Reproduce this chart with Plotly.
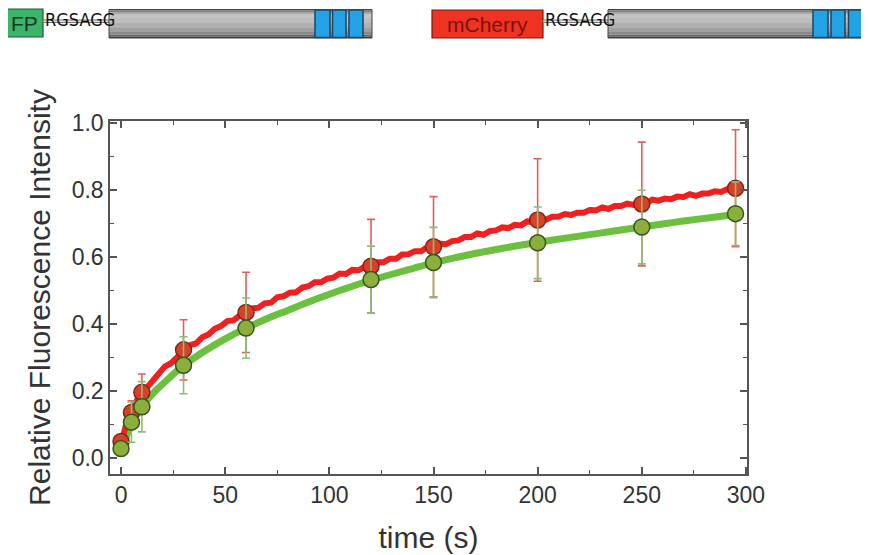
import plotly.graph_objects as go

# sampled time points (s) with mean values and error bars
t_pts = [0, 5, 10, 30, 60, 120, 150, 200, 250, 295]
red_pts = [0.048, 0.135, 0.195, 0.322, 0.434, 0.572, 0.630, 0.710, 0.758, 0.805]
red_err = [0.02, 0.035, 0.055, 0.09, 0.12, 0.14, 0.15, 0.183, 0.185, 0.175]
green_pts = [0.027, 0.106, 0.152, 0.276, 0.387, 0.532, 0.583, 0.642, 0.689, 0.729]
green_err = [0.015, 0.06, 0.075, 0.085, 0.09, 0.10, 0.105, 0.107, 0.11, 0.095]

# continuous recovery traces
red_t = [0, 3, 6, 9, 12, 15, 18, 21, 24, 27, 30, 33, 36, 39, 42, 45, 48, 51, 54, 57,
         60, 63, 66, 69, 72, 75, 78, 81, 84, 87, 90, 93, 96, 99, 102, 105, 108, 111,
         114, 117, 120, 123, 126, 129, 132, 135, 138, 141, 144, 147, 150, 153, 156,
         159, 162, 165, 168, 171, 174, 177, 180, 183, 186, 189, 192, 195, 198, 201,
         204, 207, 210, 213, 216, 219, 222, 225, 228, 231, 234, 237, 240, 243, 246,
         249, 252, 255, 258, 261, 264, 267, 270, 273, 276, 279, 282, 285, 288, 291,
         294, 297]
red_curve = [0.040, 0.113, 0.148, 0.191, 0.206, 0.230, 0.250, 0.272, 0.282, 0.301,
             0.317, 0.336, 0.341, 0.360, 0.368, 0.385, 0.393, 0.408, 0.410, 0.425,
             0.432, 0.446, 0.448, 0.461, 0.463, 0.479, 0.482, 0.493, 0.494, 0.508,
             0.512, 0.524, 0.524, 0.535, 0.538, 0.550, 0.549, 0.561, 0.560, 0.571,
             0.574, 0.584, 0.584, 0.594, 0.594, 0.607, 0.608, 0.617, 0.617, 0.629,
             0.630, 0.640, 0.638, 0.647, 0.649, 0.659, 0.659, 0.670, 0.666, 0.677,
             0.679, 0.688, 0.686, 0.696, 0.694, 0.706, 0.705, 0.712, 0.711, 0.720,
             0.720, 0.728, 0.725, 0.732, 0.732, 0.740, 0.739, 0.748, 0.743, 0.752,
             0.752, 0.759, 0.755, 0.763, 0.760, 0.771, 0.768, 0.774, 0.772, 0.780,
             0.779, 0.787, 0.782, 0.789, 0.789, 0.796, 0.794, 0.802, 0.797, 0.806]
green_t = [0, 2, 5, 10, 15, 20, 30, 40, 50, 60, 70, 80, 90, 100, 110, 120, 130, 140, 150,
           160, 170, 180, 190, 200, 210, 220, 230, 240, 250, 260, 270, 280, 290, 298]
green_curve = [0.02, 0.055, 0.10, 0.152, 0.19, 0.22, 0.275, 0.318, 0.355, 0.387, 0.415,
               0.44, 0.465, 0.488, 0.51, 0.53, 0.548, 0.565, 0.582, 0.597, 0.61, 0.622,
               0.633, 0.643, 0.653, 0.662, 0.671, 0.68, 0.689, 0.698, 0.707, 0.715, 0.723,
               0.73]

FONT = "Liberation Sans, Arial, sans-serif"
NARROW = "Liberation Sans Narrow, DejaVu Sans Condensed, Arial Narrow, sans-serif"

# the page body adds an 8px margin, so the figure is 8px smaller than the window
W, H = 861, 547
ML, MR, MT, MB = 102, 122, 113, 81
PW, PH = W - ML - MR, H - MT - MB
OFF = 8


def px(x):
    # window pixel -> paper x
    return (x - OFF - ML) / PW


def py(y):
    # window pixel -> paper y
    return (H - MB - (y - OFF)) / PH


fig = go.Figure()

fig.add_trace(go.Scatter(x=green_t, y=green_curve, mode='lines', line_shape='spline',
                         line=dict(color='#6cc040', width=7), showlegend=False))
fig.add_trace(go.Scatter(x=red_t, y=red_curve, mode='lines',
                         line=dict(color='#ee2020', width=6), showlegend=False))

fig.add_trace(go.Scatter(
    x=t_pts, y=red_pts, mode='markers', showlegend=False,
    marker=dict(size=16, color='#d8402a', line=dict(color='#7a2a18', width=1.5)),
    error_y=dict(type='data', array=red_err, color='#e06060', thickness=1.6, width=4)))
fig.add_trace(go.Scatter(
    x=t_pts, y=green_pts, mode='markers', showlegend=False,
    marker=dict(size=16, color='#8cae3c', line=dict(color='#35561c', width=1.5)),
    error_y=dict(type='data', array=green_err, color='#88c070', thickness=1.6, width=4)))

# construct diagrams above the plot
shapes = []
ann = []


def rect(x0, y0, x1, y1, fill, line='rgba(0,0,0,0)', lw=0):
    shapes.append(dict(type='rect', xref='paper', yref='paper', x0=px(x0), x1=px(x1),
                       y0=py(y1), y1=py(y0), fillcolor=fill,
                       line=dict(color=line, width=lw), layer='above'))


def gray_bar(x0, x1, blues):
    bands = [(9.5, 10.5, '#3a3a3a'), (10.5, 12, '#7f7f7f'), (12, 14, '#a8a8a8'),
             (14, 18, '#c4c4c4'), (18, 23, '#bdbdbd'), (23, 28, '#b0b0b0'),
             (28, 32, '#a0a0a0'), (32, 34.5, '#8a8a8a'), (34.5, 36.5, '#6a6a6a'),
             (36.5, 38, '#3a3a3a')]
    for y0, y1, c in bands:
        rect(x0, y0, x1, y1, c)
    for b0, b1 in blues:
        rect(b0, 10, b1, 37.5, '#24a2e6', '#1c4466', 1.5)
    rect(x0, 9.5, x1, 38, 'rgba(0,0,0,0)', '#444444', 1)


# left construct (GFP, cut at the edge)
rect(0, 9, 43, 37, '#3cb46a', '#1d5a32', 1.2)
ann.append(dict(text='FP', x=px(9), y=py(23), xanchor='left', yanchor='middle',
                font=dict(family=FONT, size=21, color='#0f3a20')))
rect(43, 20, 109, 22.5, '#e6e6e6', '#777777', 1)
ann.append(dict(text='RGSAGG', x=px(44), y=py(19), xanchor='left', yanchor='middle',
                borderpad=0, font=dict(family=NARROW, size=18, color='#111111')))
gray_bar(109, 372, [(315, 330), (332.5, 346), (349, 363)])

# right construct (mCherry)
rect(432, 10, 543, 38, '#ee3322', '#7a1a10', 1.2)
ann.append(dict(text='mCherry', x=px(487.5), y=py(24.5), xanchor='center', yanchor='middle',
                font=dict(family=FONT, size=21, color='#7a1010')))
rect(543, 20, 608, 22.5, '#e6e6e6', '#777777', 1)
ann.append(dict(text='RGSAGG', x=px(544), y=py(19), xanchor='left', yanchor='middle',
                borderpad=0, font=dict(family=NARROW, size=18, color='#111111')))
gray_bar(608, 875, [(813, 828), (831, 845), (848.5, 863)])

for a in ann:
    a.update(xref='paper', yref='paper', showarrow=False)

axis_common = dict(
    showline=True, linecolor='#555555', linewidth=1.5, mirror='ticks',
    ticks='inside', ticklen=7, tickwidth=1.5, tickcolor='#555555',
    showgrid=False, zeroline=False, automargin=False,
    tickfont=dict(family=FONT, size=23, color='#333333'),
)

fig.update_layout(
    width=W, height=H,
    margin=dict(l=ML, r=MR, t=MT, b=MB),
    paper_bgcolor='white', plot_bgcolor='white',
    xaxis=dict(range=[-5.3, 300.5], dtick=50, tick0=0,
               minor=dict(ticks='inside', ticklen=4, tickwidth=1.2, tickcolor='#555555', dtick=25),
               title=dict(text='time (s)', standoff=20,
                          font=dict(family=FONT, size=30, color='#333333')),
               **axis_common),
    yaxis=dict(range=[-0.049, 1.006], dtick=0.2, tick0=0, tickformat='.1f',
               minor=dict(ticks='inside', ticklen=4, tickwidth=1.2, tickcolor='#555555', dtick=0.1),
               title=dict(text='Relative Fluorescence Intensity', standoff=12,
                          font=dict(family=FONT, size=30, color='#333333')),
               **axis_common),
    shapes=shapes,
    annotations=ann,
)

fig.write_html("out.html")
